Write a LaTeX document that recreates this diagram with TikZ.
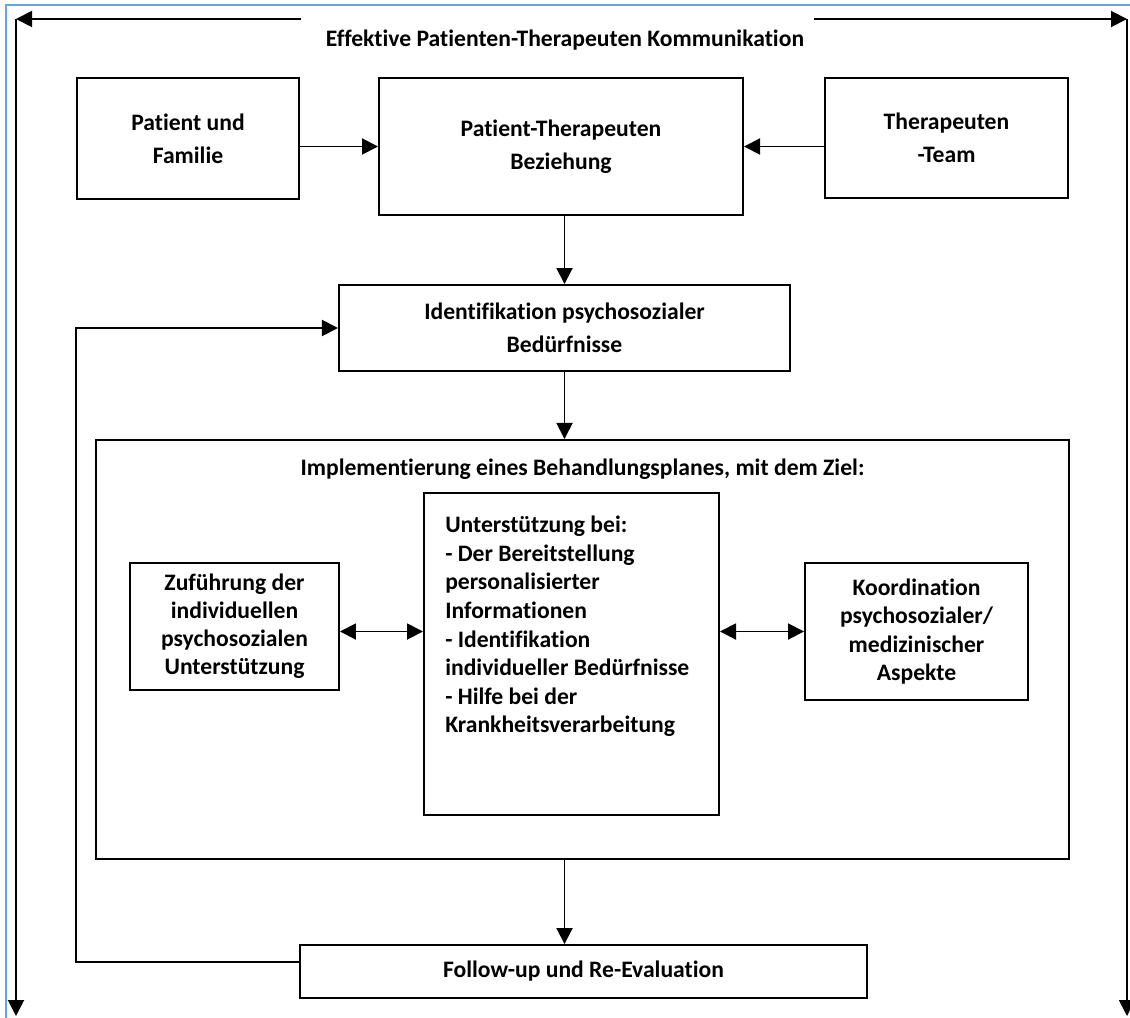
\documentclass[tikz,border=0pt]{standalone}
\usepackage{fontspec}
\setmainfont{Carlito}[Ligatures=NoCommon]
\usepackage{tikz}
\usetikzlibrary{positioning,arrows.meta,calc}
\definecolor{frameblue}{RGB}{106,160,228}
\tikzstyle{block}     = [draw=black, line width=1.35pt, inner sep=0pt, align=center, font=\bfseries\fontsize{16.8}{23.5}\selectfont]
\tikzstyle{subblock}  = [block, font=\bfseries\fontsize{16.8}{20}\selectfont]
\tikzstyle{label}     = [inner sep=0pt, font=\bfseries\fontsize{16.8}{20.3}\selectfont]
\tikzstyle{arrow}     = [line width=1.35pt, -{Triangle[length=0.4cm,width=0.4cm]}]
\tikzstyle{twoway}    = [line width=1.35pt, {Triangle[length=0.4cm,width=0.4cm]}-{Triangle[length=0.4cm,width=0.4cm]}]

\begin{document}
\begin{tikzpicture}[x=0.025cm, y=-0.025cm]
        \useasboundingbox (0,0) rectangle (1130,1018);
        % frame of the screenshot
        \draw[frameblue, line width=1.4pt] (6,1018) -- (6,5) -- (1130,5);

        \node[label] (titel) at (565,40) {Effektive Patienten-Therapeuten Kommunikation};
        \coordinate (obenL) at (16,19);
        \coordinate (untenL) at (16,1016);
        \coordinate (obenR) at (1127,19);
        \coordinate (untenR) at (1127,1016);

        \node[block, minimum width=5.55cm, minimum height=3.025cm] (patient) at (188,138.5) {Patient und\\Familie};
        \node[block, minimum width=9.1cm, minimum height=3.425cm] (beziehung) at (561,146.5) {Patient-Therapeuten\\Beziehung};
        \node[block, minimum width=6.075cm, minimum height=3cm] (team) at (946.5,138) {Therapeuten\\-Team};
        \node[block, minimum width=11.275cm, minimum height=2.15cm] (ident) at (564.5,328) {Identifikation psychosozialer\\Bedürfnisse};

        \node[block, minimum width=24.325cm, minimum height=10.475cm] (impl) at (582.5,649.5) {};
        \node[label] (impltitel) at ([yshift=-0.75cm]impl.north) {Implementierung eines Behandlungsplanes, mit dem Ziel:};
        \node[subblock, minimum width=7.375cm, minimum height=8.05cm] (unterst) at (571.5,654) {};
        \node[label, anchor=north west, align=left] (unterstText) at (445,516) {Unterstützung bei:\\- Der Bereitstellung\\personalisierter\\Informationen\\- Identifikation\\individueller Bedürfnisse\\- Hilfe bei der\\Krankheitsverarbeitung};
        \node[subblock, minimum width=5.225cm, minimum height=3.175cm] (zufuehr) at (234.5,626.5) {Zuführung der\\individuellen\\psychosozialen\\Unterstützung};
        \node[subblock, minimum width=5.575cm, minimum height=3.425cm] (koord) at (916.5,631.5) {Koordination\\psychosozialer/\\medizinischer\\Aspekte};

        \node[block, minimum width=14.175cm, minimum height=1.325cm] (followup) at (583.5,971.5) {Follow-up und Re-Evaluation};
        \coordinate (rueck) at (76,650);

        \draw[arrow] ([xshift=-0.62cm]titel.west |- obenL) -- (obenL);
        \draw[arrow] (obenL) -- (untenL);
        \draw[arrow] ([xshift=0.25cm]titel.east |- obenR) -- (obenR);
        \draw[arrow] (obenR) -- (untenR);

        \draw[arrow] (patient.east |- beziehung.west) -- (beziehung.west);
        \draw[arrow] (team.west |- beziehung.east) -- (beziehung.east);
        \draw[arrow] (beziehung.south -| ident.north) -- (ident.north);
        \draw[arrow] (ident.south) -- (ident.south |- impl.north);
        \draw[twoway] (zufuehr.east |- koord.west) -- (unterst.west |- koord.west);
        \draw[twoway] (unterst.east |- koord.west) -- (koord.west);
        \draw[arrow] (impl.south -| ident.south) -- (followup.north -| ident.south);
        \draw[arrow] ([yshift=0.24cm]followup.west) -| (rueck) |- (ident.west);
    \end{tikzpicture}
\end{document}
